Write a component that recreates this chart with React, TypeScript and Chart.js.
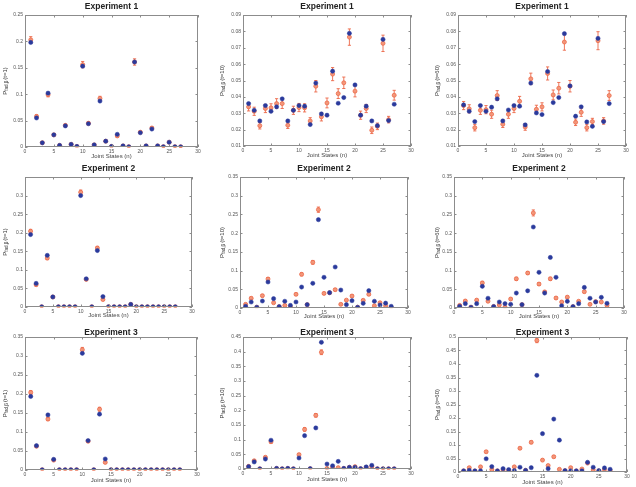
import React, { useEffect, useRef } from "react";
import { Chart, registerables } from "chart.js";

Chart.register(...registerables);

// Joint states n = 1..27 on every panel
const jointStates = [1, 2, 3, 4, 5, 6, 7, 8, 9, 10, 11, 12, 13, 14, 15, 16, 17, 18, 19, 20, 21, 22, 23, 24, 25, 26, 27];
const xTickLabels = ["0", "5", "10", "15", "20", "25", "30"];

// ---------- Experiment 1 ----------
const exp1MeasuredT1 = [0.198, 0.055, 0.008, 0.102, 0.023, 0.003, 0.040, 0.005, 0.001, 0.153, 0.044, 0.004, 0.087, 0.011, 0.001, 0.024, 0.002, 0.0005, 0.161, 0.027, 0.002, 0.034, 0.002, 0.0005, 0.009, 0.0005, 0.0003];
const exp1PredictedT1 = [0.203, 0.058, 0.008, 0.099, 0.023, 0.003, 0.041, 0.005, 0.001, 0.156, 0.045, 0.004, 0.092, 0.011, 0.001, 0.021, 0.002, 0.0005, 0.161, 0.028, 0.002, 0.036, 0.002, 0.0005, 0.009, 0.0005, 0.0003];
const exp1ErrorT1 = [0.006, 0.003, 0.001, 0.004, 0.002, 0.001, 0.002, 0.001, 0.001, 0.006, 0.003, 0.001, 0.004, 0.002, 0.001, 0.002, 0.001, 0.001, 0.006, 0.002, 0.001, 0.002, 0.001, 0.001, 0.001, 0.001, 0.001];

const exp1MeasuredT10 = [0.0359, 0.0318, 0.0253, 0.0347, 0.0312, 0.0339, 0.0388, 0.0253, 0.0318, 0.0347, 0.0343, 0.0231, 0.0484, 0.0296, 0.0288, 0.0557, 0.0361, 0.0396, 0.0788, 0.0473, 0.0288, 0.0343, 0.0253, 0.0224, 0.0751, 0.0255, 0.0355];
const exp1PredictedT10 = [0.0339, 0.0312, 0.0224, 0.0329, 0.0333, 0.0359, 0.0359, 0.0227, 0.0318, 0.0335, 0.0333, 0.0253, 0.0465, 0.0278, 0.0363, 0.0539, 0.042, 0.0486, 0.0765, 0.0435, 0.0288, 0.0329, 0.0196, 0.022, 0.0727, 0.0261, 0.041];
const exp1ErrorT10 = [0.0025, 0.0025, 0.002, 0.0025, 0.0025, 0.003, 0.003, 0.002, 0.0025, 0.0025, 0.0025, 0.002, 0.0035, 0.0025, 0.003, 0.004, 0.003, 0.0035, 0.005, 0.0035, 0.0025, 0.0025, 0.002, 0.002, 0.005, 0.002, 0.003];

const exp1MeasuredT60 = [0.0351, 0.0312, 0.0249, 0.0347, 0.0312, 0.0337, 0.0388, 0.0253, 0.032, 0.0347, 0.0343, 0.0229, 0.0484, 0.0302, 0.0292, 0.0555, 0.0365, 0.0396, 0.0786, 0.0467, 0.0282, 0.0339, 0.0247, 0.022, 0.0757, 0.0249, 0.0359];
const exp1PredictedT60 = [0.0347, 0.0327, 0.0212, 0.0318, 0.0322, 0.0294, 0.0408, 0.0233, 0.0294, 0.0329, 0.0373, 0.0216, 0.051, 0.0324, 0.0339, 0.0543, 0.0412, 0.0453, 0.0735, 0.0465, 0.0245, 0.0306, 0.0212, 0.0249, 0.0743, 0.0253, 0.0408];
const exp1ErrorT60 = [0.0025, 0.0025, 0.002, 0.0025, 0.0025, 0.0025, 0.003, 0.002, 0.0025, 0.0025, 0.003, 0.002, 0.0035, 0.0025, 0.0025, 0.004, 0.003, 0.0035, 0.005, 0.0035, 0.002, 0.0025, 0.002, 0.002, 0.0055, 0.002, 0.003];

// ---------- Experiment 2 ----------
const exp2MeasuredT1 = [0.195, 0.0636, 0.0005, 0.139, 0.027, 0.0005, 0.0005, 0.0005, 0.0005, 0.300, 0.076, 0.0005, 0.152, 0.028, 0.0005, 0.0005, 0.0005, 0.0005, 0.007, 0.0005, 0.0005, 0.0005, 0.0005, 0.0005, 0.0005, 0.0005, 0.0005];
const exp2PredictedT1 = [0.204, 0.060, 0.0005, 0.1316, 0.027, 0.0005, 0.0005, 0.0005, 0.0005, 0.309, 0.0743, 0.0005, 0.159, 0.020, 0.0005, 0.0005, 0.0005, 0.0005, 0.007, 0.0005, 0.0005, 0.0005, 0.0005, 0.0005, 0.0005, 0.0005, 0.0005];
const exp2ErrorT1 = [0.005, 0.003, 0.001, 0.004, 0.002, 0.001, 0.001, 0.001, 0.001, 0.006, 0.003, 0.001, 0.004, 0.002, 0.001, 0.001, 0.001, 0.001, 0.001, 0.001, 0.001, 0.001, 0.001, 0.001, 0.001, 0.001, 0.001];

const exp2MeasuredT10 = [0.0045, 0.016, 0.002, 0.0187, 0.0695, 0.025, 0.0036, 0.018, 0.007, 0.016, 0.056, 0.009, 0.066, 0.236, 0.082, 0.041, 0.1095, 0.048, 0.009, 0.0196, 0.002, 0.0125, 0.0463, 0.018, 0.008, 0.013, 0.0045];
const exp2PredictedT10 = [0.0098, 0.026, 0.002, 0.033, 0.0775, 0.014, 0.0036, 0.007, 0.003, 0.0365, 0.090, 0.009, 0.122, 0.2627, 0.039, 0.041, 0.049, 0.0098, 0.021, 0.032, 0.002, 0.0205, 0.0365, 0.006, 0.014, 0.006, 0.002];
const exp2ErrorT10 = [0.002, 0.003, 0.001, 0.003, 0.004, 0.002, 0.001, 0.002, 0.001, 0.003, 0.004, 0.002, 0.005, 0.007, 0.003, 0.003, 0.003, 0.002, 0.002, 0.003, 0.001, 0.002, 0.003, 0.002, 0.002, 0.002, 0.001];

const exp2MeasuredT60 = [0.0045, 0.0116, 0.002, 0.0116, 0.058, 0.026, 0.004, 0.016, 0.0116, 0.0098, 0.040, 0.009, 0.046, 0.2164, 0.0953, 0.040, 0.135, 0.082, 0.006, 0.0178, 0.0036, 0.0116, 0.055, 0.026, 0.016, 0.0285, 0.0125];
const exp2PredictedT60 = [0.007, 0.0187, 0.002, 0.021, 0.067, 0.018, 0.004, 0.008, 0.002, 0.024, 0.078, 0.009, 0.0935, 0.254, 0.064, 0.043, 0.078, 0.0267, 0.016, 0.029, 0.0036, 0.018, 0.0436, 0.0098, 0.017, 0.016, 0.007];
const exp2ErrorT60 = [0.002, 0.003, 0.001, 0.003, 0.004, 0.002, 0.001, 0.002, 0.001, 0.003, 0.004, 0.002, 0.004, 0.008, 0.004, 0.003, 0.004, 0.003, 0.002, 0.003, 0.001, 0.002, 0.003, 0.002, 0.002, 0.002, 0.002];

// ---------- Experiment 3 ----------
const exp3MeasuredT1 = [0.1935, 0.064, 0.0005, 0.145, 0.028, 0.0005, 0.0005, 0.0005, 0.0005, 0.307, 0.0774, 0.0005, 0.147, 0.029, 0.0005, 0.0005, 0.0005, 0.0005, 0.0005, 0.0005, 0.0005, 0.0005, 0.0005, 0.0005, 0.0005, 0.0005, 0.0005];
const exp3PredictedT1 = [0.204, 0.0625, 0.0005, 0.134, 0.026, 0.0005, 0.0005, 0.0005, 0.0005, 0.3166, 0.0756, 0.0005, 0.160, 0.020, 0.0005, 0.0005, 0.0005, 0.0005, 0.0005, 0.0005, 0.0005, 0.0005, 0.0005, 0.0005, 0.0005, 0.0005, 0.0005];
const exp3ErrorT1 = [0.005, 0.003, 0.001, 0.004, 0.002, 0.001, 0.001, 0.001, 0.001, 0.006, 0.003, 0.001, 0.005, 0.002, 0.001, 0.001, 0.001, 0.001, 0.001, 0.001, 0.001, 0.001, 0.001, 0.001, 0.001, 0.001, 0.001];

const exp3MeasuredT10 = [0.008, 0.024, 0.0005, 0.034, 0.098, 0.002, 0.0005, 0.002, 0.0005, 0.0375, 0.1136, 0.001, 0.140, 0.432, 0.017, 0.011, 0.026, 0.002, 0.0057, 0.0057, 0.001, 0.007, 0.0125, 0.0005, 0.0005, 0.0005, 0.0005];
const exp3PredictedT10 = [0.009, 0.028, 0.0005, 0.040, 0.093, 0.002, 0.0005, 0.002, 0.0005, 0.049, 0.135, 0.001, 0.183, 0.398, 0.002, 0.006, 0.0045, 0.002, 0.0057, 0.008, 0.001, 0.0057, 0.008, 0.0005, 0.0005, 0.0005, 0.0005];
const exp3ErrorT10 = [0.002, 0.003, 0.001, 0.003, 0.005, 0.001, 0.001, 0.001, 0.001, 0.004, 0.006, 0.001, 0.006, 0.008, 0.002, 0.002, 0.002, 0.001, 0.002, 0.002, 0.001, 0.002, 0.002, 0.001, 0.001, 0.001, 0.001];

const exp3MeasuredT60 = [0.004, 0.006, 0.004, 0.004, 0.049, 0.020, 0.004, 0.0125, 0.009, 0.005, 0.0176, 0.006, 0.016, 0.358, 0.142, 0.0125, 0.196, 0.118, 0.005, 0.004, 0.004, 0.004, 0.036, 0.0176, 0.005, 0.015, 0.010];
const exp3PredictedT60 = [0.004, 0.016, 0.004, 0.019, 0.075, 0.009, 0.004, 0.0075, 0.005, 0.019, 0.088, 0.006, 0.110, 0.487, 0.044, 0.024, 0.0565, 0.010, 0.005, 0.016, 0.004, 0.011, 0.033, 0.0075, 0.004, 0.009, 0.005];
const exp3ErrorT60 = [0.002, 0.003, 0.002, 0.003, 0.004, 0.002, 0.002, 0.002, 0.002, 0.003, 0.004, 0.002, 0.005, 0.008, 0.003, 0.003, 0.004, 0.002, 0.002, 0.003, 0.002, 0.002, 0.003, 0.002, 0.002, 0.002, 0.002];

type Panel = {
  title: string;
  time: string;
  measured: number[];
  predicted: number[];
  error: number[];
  yMin: number;
  yMax: number;
  yStep: number;
  hideTopTick?: boolean;
};

const panels: Panel[] = [
  { title: "Experiment 1", time: "(t=1)", measured: exp1MeasuredT1, predicted: exp1PredictedT1, error: exp1ErrorT1, yMin: 0, yMax: 0.25, yStep: 0.05 },
  { title: "Experiment 1", time: "(t=10)", measured: exp1MeasuredT10, predicted: exp1PredictedT10, error: exp1ErrorT10, yMin: 0.01, yMax: 0.09, yStep: 0.01 },
  { title: "Experiment 1", time: "(t=60)", measured: exp1MeasuredT60, predicted: exp1PredictedT60, error: exp1ErrorT60, yMin: 0.01, yMax: 0.09, yStep: 0.01 },
  { title: "Experiment 2", time: "(t=1)", measured: exp2MeasuredT1, predicted: exp2PredictedT1, error: exp2ErrorT1, yMin: 0, yMax: 0.35, yStep: 0.05, hideTopTick: true },
  { title: "Experiment 2", time: "(t=10)", measured: exp2MeasuredT10, predicted: exp2PredictedT10, error: exp2ErrorT10, yMin: 0, yMax: 0.35, yStep: 0.05 },
  { title: "Experiment 2", time: "(t=60)", measured: exp2MeasuredT60, predicted: exp2PredictedT60, error: exp2ErrorT60, yMin: 0, yMax: 0.35, yStep: 0.05 },
  { title: "Experiment 3", time: "(t=1)", measured: exp3MeasuredT1, predicted: exp3PredictedT1, error: exp3ErrorT1, yMin: 0, yMax: 0.35, yStep: 0.05 },
  { title: "Experiment 3", time: "(t=10)", measured: exp3MeasuredT10, predicted: exp3PredictedT10, error: exp3ErrorT10, yMin: 0, yMax: 0.45, yStep: 0.05 },
  { title: "Experiment 3", time: "(t=60)", measured: exp3MeasuredT60, predicted: exp3PredictedT60, error: exp3ErrorT60, yMin: 0, yMax: 0.5, yStep: 0.05 },
];

// Page layout: plot area of each panel as [left, top, right, bottom]
const plotBoxes = [
  [25, 15, 198, 147], [243, 15, 411, 146], [458, 15, 626, 146],
  [25, 177, 192, 307], [240, 177, 408, 308], [454, 177, 624, 308],
  [25, 337, 197, 470], [243, 337, 411, 469], [458, 337, 627, 472],
];
const CELL_W = 212;
const cellTops = [0, 160, 320];
const cellHeights = [160, 160, 167];
const titleCenters = [7, 9, 12.5];
const xTitleGaps = [13, 12, 14];
const yLabelX = [5, 10, 13];

const FONT = "'Liberation Sans', Arial, Helvetica, sans-serif";
const BLUE = "#2a3a9c";
const RED = "#ec6848";
const RED_FILL = "rgba(242,150,120,0.95)";
const FRAME = "#8c8c8c";

function fmt(v: number) {
  return String(Math.round(v * 100) / 100);
}

function makeDecor(p: Panel, labelX: number, titleY: number) {
  return {
    id: "panelDecor",
    beforeDatasetsDraw(chart: any) {
      const { ctx, scales } = chart;
      const x = scales.x;
      const y = scales.y;
      ctx.save();
      ctx.strokeStyle = RED;
      ctx.lineWidth = 0.9;
      p.predicted.forEach((v, i) => {
        const e = p.error[i];
        const px = x.getPixelForValue(jointStates[i]);
        const top = y.getPixelForValue(v + e);
        const bot = y.getPixelForValue(v - e);
        ctx.beginPath();
        ctx.moveTo(px, top);
        ctx.lineTo(px, bot);
        ctx.moveTo(px - 1.6, top);
        ctx.lineTo(px + 1.6, top);
        ctx.moveTo(px - 1.6, bot);
        ctx.lineTo(px + 1.6, bot);
        ctx.stroke();
      });
      ctx.restore();
    },
    afterDraw(chart: any) {
      const { ctx, chartArea, scales } = chart;
      const { left, right, top, bottom } = chartArea;
      ctx.save();
      // box frame
      ctx.strokeStyle = FRAME;
      ctx.lineWidth = 1;
      ctx.strokeRect(left + 0.5, top + 0.5, right - left - 1, bottom - top - 1);
      // inward tick marks on all four sides
      ctx.beginPath();
      scales.y.ticks.forEach((t: any) => {
        const py = Math.round(scales.y.getPixelForValue(t.value)) + 0.5;
        ctx.moveTo(left, py);
        ctx.lineTo(left + 2.5, py);
        ctx.moveTo(right, py);
        ctx.lineTo(right - 2.5, py);
      });
      scales.x.ticks.forEach((t: any) => {
        const px = Math.round(scales.x.getPixelForValue(t.value)) + 0.5;
        ctx.moveTo(px, bottom);
        ctx.lineTo(px, bottom - 2.5);
        ctx.moveTo(px, top);
        ctx.lineTo(px, top + 2.5);
      });
      ctx.stroke();

      // panel title
      ctx.fillStyle = "#222";
      ctx.font = `bold 8.5px ${FONT}`;
      ctx.textAlign = "center";
      ctx.textBaseline = "middle";
      ctx.fillText(p.title, (left + right) / 2, titleY);

      // rotated y label with subscript
      const mainFont = `6px ${FONT}`;
      const subFont = `4.5px ${FONT}`;
      const sub = "fad,β";
      ctx.font = mainFont;
      const wP = ctx.measureText("P").width;
      const wT = ctx.measureText(p.time).width;
      ctx.font = subFont;
      const wS = ctx.measureText(sub).width;
      const total = wP + wS + 1 + wT;
      ctx.translate(labelX, (top + bottom) / 2);
      ctx.rotate(-Math.PI / 2);
      ctx.textAlign = "left";
      ctx.fillStyle = "#333";
      let cx = -total / 2;
      ctx.font = mainFont;
      ctx.fillText("P", cx, 0);
      cx += wP;
      ctx.font = subFont;
      ctx.fillText(sub, cx, 2);
      cx += wS + 1;
      ctx.font = mainFont;
      ctx.fillText(p.time, cx, 0);
      ctx.restore();
    },
  };
}

function PanelChart({ index }: { index: number }) {
  const ref = useRef<HTMLCanvasElement | null>(null);
  const p = panels[index];
  const col = index % 3;
  const row = Math.floor(index / 3);
  const cellLeft = col * CELL_W;
  const cellTop = cellTops[row];
  const cellH = cellHeights[row];
  const [bl, bt, br, bb] = plotBoxes[index];
  const yWidth = bl - cellLeft;
  const padTop = bt - cellTop;
  const padRight = cellLeft + CELL_W - br;
  const xHeight = xTitleGaps[row];
  const padBottom = cellTop + cellH - bb - xHeight;

  useEffect(() => {
    if (!ref.current) return;
    const chart = new Chart(ref.current, {
      type: "scatter",
      data: {
        datasets: [
          {
            label: "predicted",
            data: jointStates.map((n, i) => ({ x: n, y: p.predicted[i] })),
            pointStyle: "circle",
            pointRadius: 2,
            pointBackgroundColor: RED_FILL,
            pointBorderColor: RED,
            pointBorderWidth: 0.8,
            order: 2,
          },
          {
            label: "measured",
            data: jointStates.map((n, i) => ({ x: n, y: p.measured[i] })),
            pointStyle: "circle",
            pointRadius: 2.1,
            pointBackgroundColor: BLUE,
            pointBorderColor: BLUE,
            pointBorderWidth: 0.5,
            order: 1,
          },
        ],
      },
      options: {
        responsive: false,
        animation: false,
        devicePixelRatio: 1,
        layout: { padding: { left: 0, top: padTop, right: padRight, bottom: Math.max(0, padBottom) } },
        plugins: { legend: { display: false }, tooltip: { enabled: false }, title: { display: false } },
        scales: {
          x: {
            type: "linear",
            min: 0,
            max: 30,
            grid: { display: false, drawTicks: false },
            border: { display: false },
            ticks: {
              stepSize: 5,
              font: { size: 5, family: FONT },
              color: "#555",
              padding: 2,
              maxRotation: 0,
              callback: (v: any) => xTickLabels[Math.round(Number(v) / 5)] ?? "",
            },
            title: {
              display: true,
              text: "Joint States (n)",
              font: { size: 6, family: FONT },
              color: "#444",
              padding: { top: 0, bottom: 0 },
            },
            afterFit: (s: any) => {
              s.height = xHeight;
            },
          },
          y: {
            type: "linear",
            min: p.yMin,
            max: p.yMax,
            grid: { display: false, drawTicks: false },
            border: { display: false },
            ticks: {
              stepSize: p.yStep,
              font: { size: 5, family: FONT },
              color: "#555",
              padding: 2,
              callback: (v: any) => {
                const n = Number(v);
                if (p.hideTopTick && Math.abs(n - p.yMax) < 1e-9) return "";
                return fmt(n);
              },
            },
            afterFit: (s: any) => {
              s.width = yWidth;
            },
          },
        },
      },
      plugins: [makeDecor(p, yLabelX[col], titleCenters[row])],
    } as any);
    return () => chart.destroy();
  }, [index]);

  return (
    <canvas
      ref={ref}
      width={CELL_W}
      height={cellH}
      style={{ position: "absolute", left: cellLeft, top: cellTop, width: CELL_W, height: cellH }}
    />
  );
}

export default function App() {
  return (
    <div style={{ position: "absolute", left: 0, top: 0, width: 636, height: 487, background: "#fff" }}>
      {panels.map((_, i) => (
        <PanelChart key={i} index={i} />
      ))}
    </div>
  );
}
